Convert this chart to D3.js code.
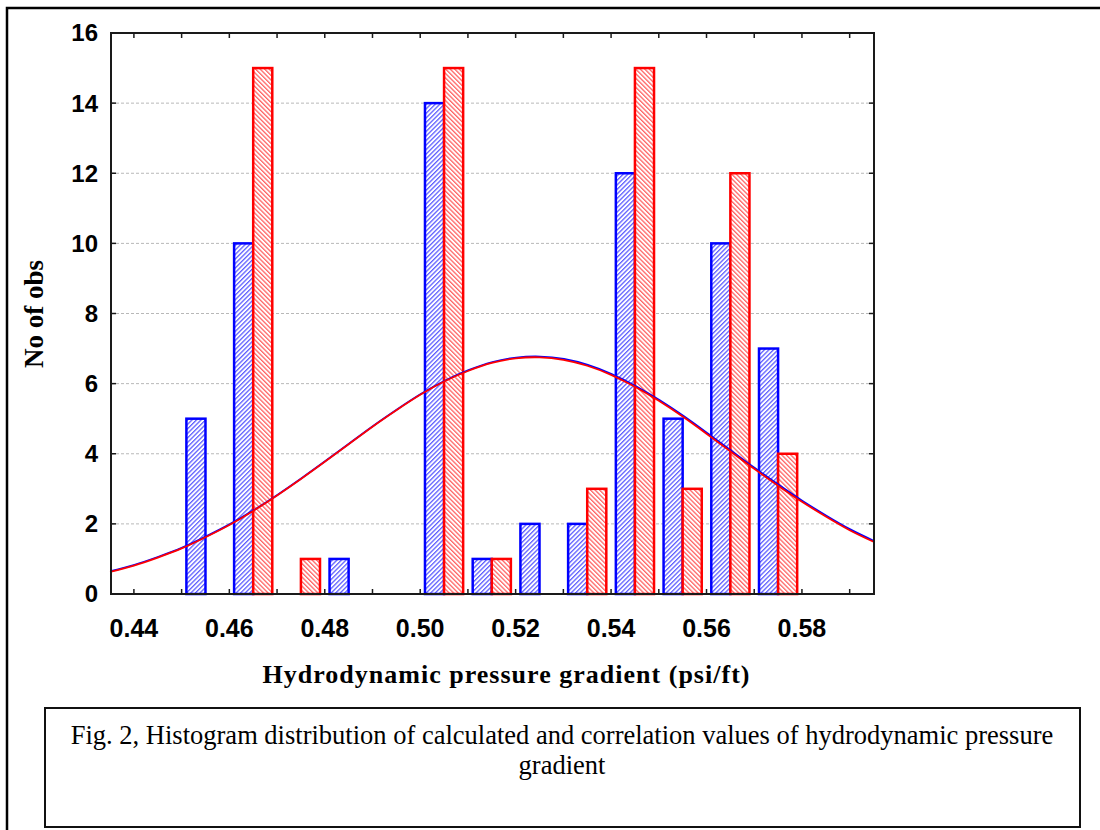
<!DOCTYPE html>
<html>
<head>
<meta charset="utf-8">
<script src="https://cdn.jsdelivr.net/npm/d3@7"></script>
<style>
  body { margin: 0; background: #fff; }
  svg { display: block; }
</style>
</head>
<body>
<svg id="chart" width="1100" height="830"></svg>
<script>
// bin start values (each bin is 0.01 wide)
const bins = [0.45, 0.46, 0.47, 0.48, 0.49, 0.50, 0.51, 0.52, 0.53, 0.54, 0.55, 0.56, 0.57]
const calculated = [5, 10, 0, 1, 0, 14, 1, 2, 2, 12, 5, 10, 7]
const correlation = [0, 15, 1, 0, 0, 15, 1, 0, 3, 15, 3, 12, 4]

// fitted normal curve
const curveX = [0.435, 0.44, 0.445, 0.45, 0.455, 0.46, 0.465, 0.47, 0.475, 0.48, 0.485, 0.49, 0.495, 0.50,
  0.505, 0.51, 0.515, 0.52, 0.525, 0.53, 0.535, 0.54, 0.545, 0.55, 0.555, 0.56, 0.565, 0.57, 0.575, 0.58,
  0.585, 0.59, 0.595]
const curveY = [0.63, 0.81, 1.04, 1.30, 1.62, 1.97, 2.37, 2.81, 3.28, 3.77, 4.27, 4.77, 5.24, 5.68,
  6.06, 6.36, 6.59, 6.72, 6.75, 6.68, 6.51, 6.25, 5.91, 5.51, 5.06, 4.57, 4.07, 3.57, 3.09, 2.63,
  2.21, 1.82, 1.49]

const yTicks = [0, 2, 4, 6, 8, 10, 12, 14, 16]
const xLabels = [0.44, 0.46, 0.48, 0.50, 0.52, 0.54, 0.56, 0.58]
const xMinor = [0.44, 0.45, 0.46, 0.47, 0.48, 0.49, 0.50, 0.51, 0.52, 0.53, 0.54, 0.55, 0.56, 0.57, 0.58, 0.59]

const svg = d3.select('#chart')
const plot = { left: 111, right: 874, top: 33, bottom: 594 }

const x = d3.scaleLinear().domain([0.4352, 0.5951]).range([plot.left, plot.right])
const y = d3.scaleLinear().domain([0, 16]).range([plot.bottom, plot.top])

// hatch patterns
const defs = svg.append('defs')
function hatch(id, color, angle) {
    const p = defs.append('pattern')
        .attr('id', id)
        .attr('patternUnits', 'userSpaceOnUse')
        .attr('width', 3.2).attr('height', 3.2)
        .attr('patternTransform', `rotate(${angle})`)
    p.append('rect').attr('width', 3.2).attr('height', 3.2).attr('fill', '#fff')
    p.append('rect').attr('width', 1.3).attr('height', 3.2).attr('fill', color)
}
hatch('hatchBlue', '#5f5fff', 45)
hatch('hatchRed', '#ff6464', -45)

// outer page border
svg.append('path')
    .attr('d', 'M7,830 L7,8 L1100,8')
    .attr('fill', 'none').attr('stroke', '#000').attr('stroke-width', 2.5)

// gridlines
svg.append('g').selectAll('line')
    .data(yTicks.filter(d => d > 0 && d < 16))
    .enter().append('line')
    .attr('x1', plot.left).attr('x2', plot.right)
    .attr('y1', d => y(d)).attr('y2', d => y(d))
    .attr('stroke', '#b8b8b8').attr('stroke-width', 1)
    .attr('stroke-dasharray', '3,2')

// bars
const barW = 0.004
const bars = svg.append('g')
function drawBars(values, offset, fill, stroke) {
    bars.append('g').selectAll('rect')
        .data(bins.map((b, i) => ({ b, v: values[i] })).filter(d => d.v > 0))
        .enter().append('rect')
        .attr('x', d => x(d.b + offset))
        .attr('width', d => x(d.b + offset + barW) - x(d.b + offset))
        .attr('y', d => y(d.v))
        .attr('height', d => y(0) - y(d.v))
        .attr('fill', fill)
        .attr('stroke', stroke)
        .attr('stroke-width', 2.5)
}
drawBars(calculated, 0.001, 'url(#hatchBlue)', '#0000ff')
drawBars(correlation, 0.005, 'url(#hatchRed)', '#ff0000')

// normal fit curves
const line = d3.line()
    .x(i => x(curveX[i]))
    .y(i => y(curveY[i]))
    .curve(d3.curveNatural)
const idx = d3.range(curveX.length)
svg.append('path').datum(idx)
    .attr('d', line).attr('fill', 'none')
    .attr('stroke', '#0000ff').attr('stroke-width', 1.8)
    .attr('transform', 'translate(0.6,-0.8)')
svg.append('path').datum(idx)
    .attr('d', line).attr('fill', 'none')
    .attr('stroke', '#ff0000').attr('stroke-width', 1.8)

// frame
svg.append('rect')
    .attr('x', plot.left).attr('y', plot.top)
    .attr('width', plot.right - plot.left).attr('height', plot.bottom - plot.top)
    .attr('fill', 'none').attr('stroke', '#1a1a1a').attr('stroke-width', 2)

// inside ticks
const tl = 5
const ticks = svg.append('g').attr('stroke', '#1a1a1a').attr('stroke-width', 1.5)
ticks.selectAll('.xb').data(xMinor).enter().append('line')
    .attr('x1', d => x(d)).attr('x2', d => x(d))
    .attr('y1', plot.bottom).attr('y2', plot.bottom - tl)
ticks.selectAll('.xt').data(xMinor).enter().append('line')
    .attr('x1', d => x(d)).attr('x2', d => x(d))
    .attr('y1', plot.top).attr('y2', plot.top + tl)
ticks.selectAll('.yl').data(yTicks).enter().append('line')
    .attr('x1', plot.left).attr('x2', plot.left + tl)
    .attr('y1', d => y(d)).attr('y2', d => y(d))
ticks.selectAll('.yr').data(yTicks).enter().append('line')
    .attr('x1', plot.right).attr('x2', plot.right - tl)
    .attr('y1', d => y(d)).attr('y2', d => y(d))

// tick labels
svg.append('g').selectAll('text')
    .data(yTicks).enter().append('text')
    .attr('x', 98).attr('y', d => y(d))
    .attr('dy', '0.35em')
    .attr('text-anchor', 'end')
    .style('font', 'bold 24px "Liberation Sans", Arial, sans-serif')
    .text(d => d)

svg.append('g').selectAll('text')
    .data(xLabels).enter().append('text')
    .attr('x', d => x(d)).attr('y', 637)
    .attr('text-anchor', 'middle')
    .style('font', 'bold 25px "Liberation Sans", Arial, sans-serif')
    .text(d => d.toFixed(2))

// axis titles
svg.append('text')
    .attr('x', 506).attr('y', 683)
    .attr('text-anchor', 'middle')
    .attr('textLength', 487).attr('lengthAdjust', 'spacing')
    .style('font', 'bold 26px "Liberation Serif", "Times New Roman", serif')
    .text('Hydrodynamic pressure gradient (psi/ft)')

svg.append('text')
    .attr('transform', 'translate(43,314) rotate(-90)')
    .attr('text-anchor', 'middle')
    .style('font', 'bold 27px "Liberation Serif", "Times New Roman", serif')
    .text('No of obs')

// caption box
svg.append('rect')
    .attr('x', 45).attr('y', 708).attr('width', 1035).attr('height', 119)
    .attr('fill', 'none').attr('stroke', '#111').attr('stroke-width', 2)

const caption = ['Fig. 2, Histogram distribution of calculated and correlation values of hydrodynamic pressure', 'gradient']
svg.append('g').selectAll('text')
    .data(caption).enter().append('text')
    .attr('x', 562).attr('y', (d, i) => 744 + i * 30)
    .attr('text-anchor', 'middle')
    .style('font', '26.5px "Liberation Serif", "Times New Roman", serif')
    .text(d => d)
</script>
</body>
</html>
